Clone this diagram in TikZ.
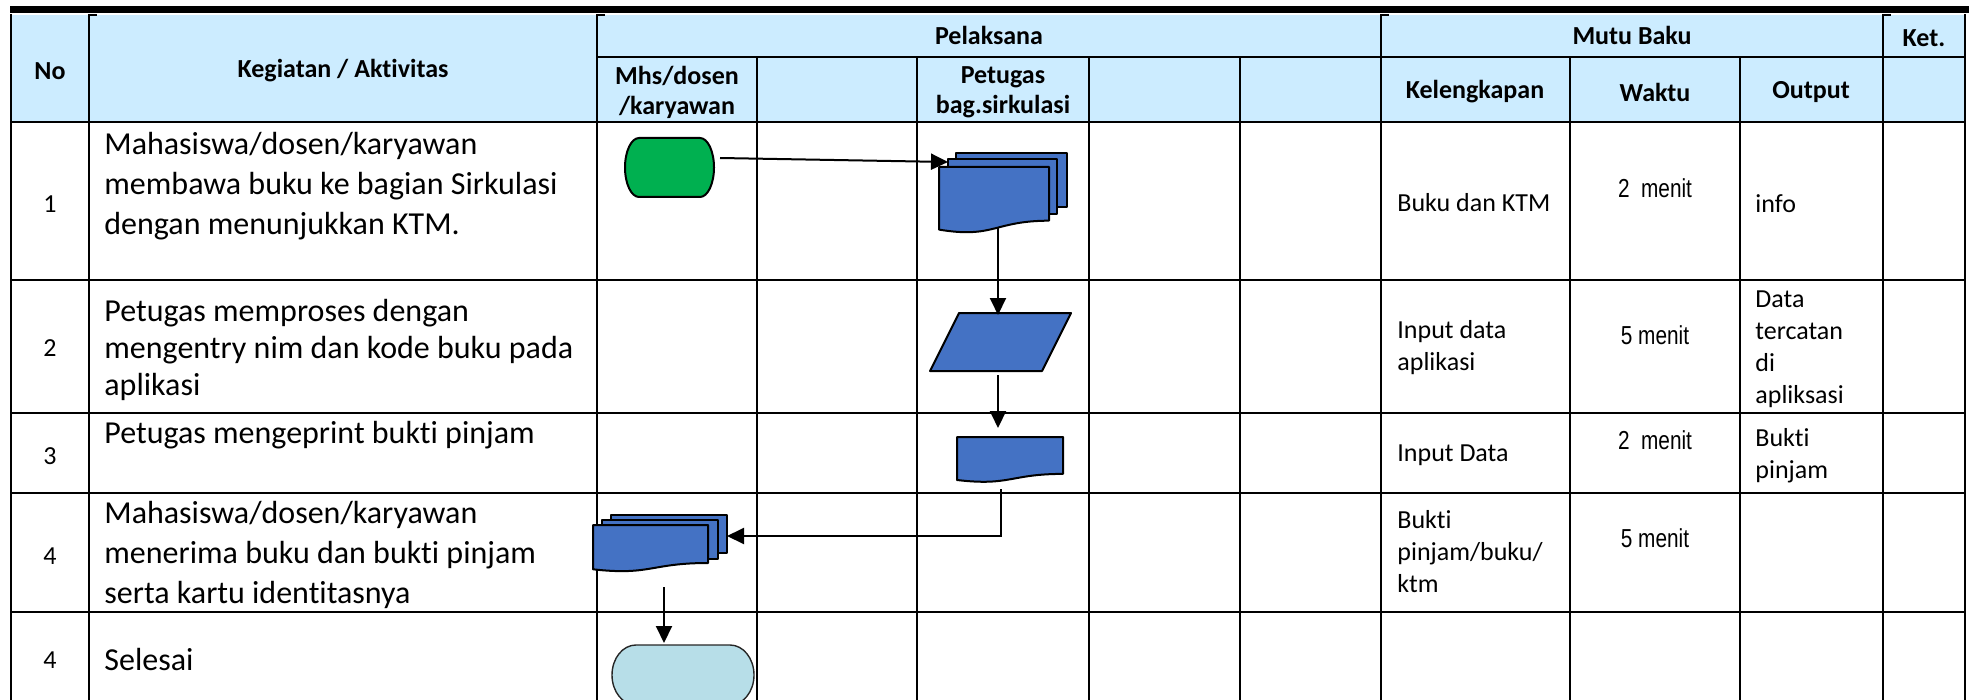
\documentclass[tikz,border=0pt]{standalone}
\usepackage{fontspec}
\setmainfont{Carlito}[Ligatures=NoCommon]
\newfontfamily\arialn[FakeStretch=0.8]{Liberation Sans}
\usetikzlibrary{arrows.meta,calc}
\definecolor{hdr}{RGB}{204,236,255}
\definecolor{startgreen}{RGB}{0,176,80}
\definecolor{docblue}{RGB}{68,114,196}
\definecolor{endcyan}{RGB}{183,222,232}
\begin{document}
\begin{tikzpicture}[x=0.5pt,y=-0.5pt,
  grid/.style={line width=1pt, line cap=rect},
  tick/.style={line width=0.7pt},
  hd/.style={font=\fontsize{13}{15}\selectfont\bfseries, align=center, inner sep=0pt},
  num/.style={font=\fontsize{13}{15}\selectfont, inner sep=0pt},
  act/.style={font=\fontsize{16}{20}\selectfont, align=left, anchor=west, inner sep=0pt},
  mb/.style={font=\fontsize{13}{16}\selectfont, align=left, anchor=west, inner sep=0pt},
  wk/.style={font=\arialn\fontsize{13}{15}\selectfont, inner sep=0pt},
  fshape/.style={draw=black, line width=1pt, line join=round},
  holder/.style={draw=none, inner sep=0pt, outer sep=0pt},
  conn/.style={line width=1pt, -{Triangle[length=8.5pt,width=8pt]}},
]
\useasboundingbox (0,0) rectangle (1969,700);
\clip (0,0) rectangle (1969,700);

% header background
\fill[hdr] (11,15) rectangle (1965,122);

% thick top rule
\draw[line width=3.3pt] (10,9.5) -- (1969,9.5);

% grid
\foreach \x in {11,89,597,1381,1883,1965} \draw[grid] (\x,15.5) -- (\x,705);
\foreach \x in {757,917,1089,1240,1570,1740} \draw[grid] (\x,57) -- (\x,705);
\draw[grid] (597,57) -- (1965,57);
\foreach \y in {122,280,413,493,612} \draw[grid] (11,\y) -- (1965,\y);
\foreach \x in {89,597,1381,1883} \draw[tick] (\x,15) -- (\x+8,15);

% header texts
\node[hd] (hno) at (50,71) {No};
\node[hd] (hkeg) at (343,71) {Kegiatan / Aktivitas};
\node[hd] (hpel) at (989,35) {Pelaksana};
\node[hd] (hmutu) at (1632,35) {Mutu Baku};
\node[hd] (hket) at (1924,38) {Ket.};
\node[hd] (hmhs) at (677,92) {Mhs/dosen\\/karyawan};
\node[hd] (hpet) at (1003,92) {Petugas\\bag.sirkulasi};
\node[hd] (hkel) at (1475,92) {Kelengkapan};
\node[hd] (hwak) at (1655,92) {Waktu};
\node[hd] (hout) at (1811,92) {Output};

% row numbers
\node[num] (n1) at (50,204) {1};
\node[num] (n2) at (50,348) {2};
\node[num] (n3) at (50,456) {3};
\node[num] (n4) at (50,556) {4};
\node[num] (n5) at (50,660) {4};

% activities
\node[act] (a1) at (104,186) {Mahasiswa/dosen/karyawan\\membawa buku ke bagian Sirkulasi\\dengan menunjukkan KTM.};
\node[act, font=\fontsize{16}{18.5}\selectfont] (a2) at (104,350) {Petugas memproses dengan\\mengentry nim dan kode buku pada\\aplikasi};
\node[act] (a3) at (104,435) {Petugas mengeprint bukti pinjam};
\node[act] (a4) at (104,555) {Mahasiswa/dosen/karyawan\\menerima buku dan bukti pinjam\\serta kartu identitasnya};
\node[act] (a5) at (104,660) {Selesai};

% mutu baku
\node[mb] (k1) at (1397,203) {Buku dan KTM};
\node[wk] (w1) at (1655,188) {2~~menit};
\node[mb] (o1) at (1755,204) {info};
\node[mb] (k2) at (1397,348) {Input data\\aplikasi};
\node[wk] (w2) at (1655,335) {5 menit};
\node[mb] (o2) at (1755,349) {Data\\tercatan\\di\\apliksasi};
\node[mb] (k3) at (1397,455) {Input Data};
\node[wk] (w3) at (1655,440) {2~~menit};
\node[mb] (o3) at (1755,456) {Bukti\\pinjam};
\node[mb] (k4) at (1397,552) {Bukti\\pinjam/buku/\\ktm};
\node[wk] (w4) at (1655,538) {5 menit};

% ---------- flowchart shapes ----------
% start terminator
\draw[fshape, fill=startgreen] (639,138) -- (700,138) .. controls (707.7,138) and (714,151.2) .. (714,167.5) .. controls (714,183.8) and (707.7,197) .. (700,197) -- (639,197) .. controls (631.3,197) and (625,183.8) .. (625,167.5) .. controls (625,151.2) and (631.3,138) .. (639,138) -- cycle;
\node[holder, minimum width=44.5pt, minimum height=29.5pt] (start) at (669.5,167.5) {};

% multi document 1
\draw[fshape, fill=docblue] (956,153) rectangle (1067,207);
\draw[fshape, fill=docblue] (948,159) rectangle (1057,214);
\draw[fshape, fill=docblue] (939,167) -- (1049,167) -- (1049,220.7) .. controls (994,220.7) and (994,238.8) .. (939,229.6) -- cycle;
\node[holder, minimum width=64pt, minimum height=40.5pt] (md1) at (1003,193.5) {};

% input/output parallelogram
\draw[fshape, fill=docblue] (959,313) -- (1071,313) -- (1042,371) -- (930,371) -- cycle;
\node[holder, minimum width=70.5pt, minimum height=29pt] (io) at (1000.5,342) {};

% document
\draw[fshape, fill=docblue] (957,437) -- (1063,437) -- (1063,473.9) .. controls (1010,473.9) and (1010,486.3) .. (957,480) -- cycle;
\node[holder, minimum width=53pt, minimum height=23.5pt] (doc) at (1010,460.5) {};

% multi document 2
\draw[fshape, fill=docblue] (611,515) rectangle (727,553);
\draw[fshape, fill=docblue] (602,520) rectangle (718,559);
\draw[fshape, fill=docblue] (593,525) -- (708,525) -- (708,563) .. controls (650.5,563) and (650.5,575.8) .. (593,569.3) -- cycle;
\node[holder, minimum width=67pt, minimum height=29pt] (md2) at (660,544) {};

% end terminator (cut by the lower edge)
\draw[draw=black!85, line width=0.7pt, fill=endcyan] (636,645) -- (730,645) .. controls (743.3,645) and (754,658.4) .. (754,675) .. controls (754,691.6) and (743.3,705) .. (730,705) -- (636,705) .. controls (622.7,705) and (612,691.6) .. (612,675) .. controls (612,658.4) and (622.7,645) .. (636,645) -- cycle;
\node[holder, minimum width=71pt, minimum height=30pt] (stop) at (683,675) {};

% ---------- connectors ----------
\draw[conn] ($(start.east)+(6,-9.5)$) -- ($(md1.north west)+(9,9)$);
\draw[conn] ($(md1.south)+(-5,-6)$) -- ($(io.north)+(-2.5,2)$);
\draw[conn] ($(io.south)+(-2.5,4)$) -- ($(doc.north)+(-12,-9)$);
\draw[conn] ($(doc.south)+(-9,5)$) |- ($(md2.east)+(0,-8)$);
\draw[conn] ($(md2.south)+(4,14)$) -- ($(stop.north)+(-19,-2)$);
\end{tikzpicture}
\end{document}
